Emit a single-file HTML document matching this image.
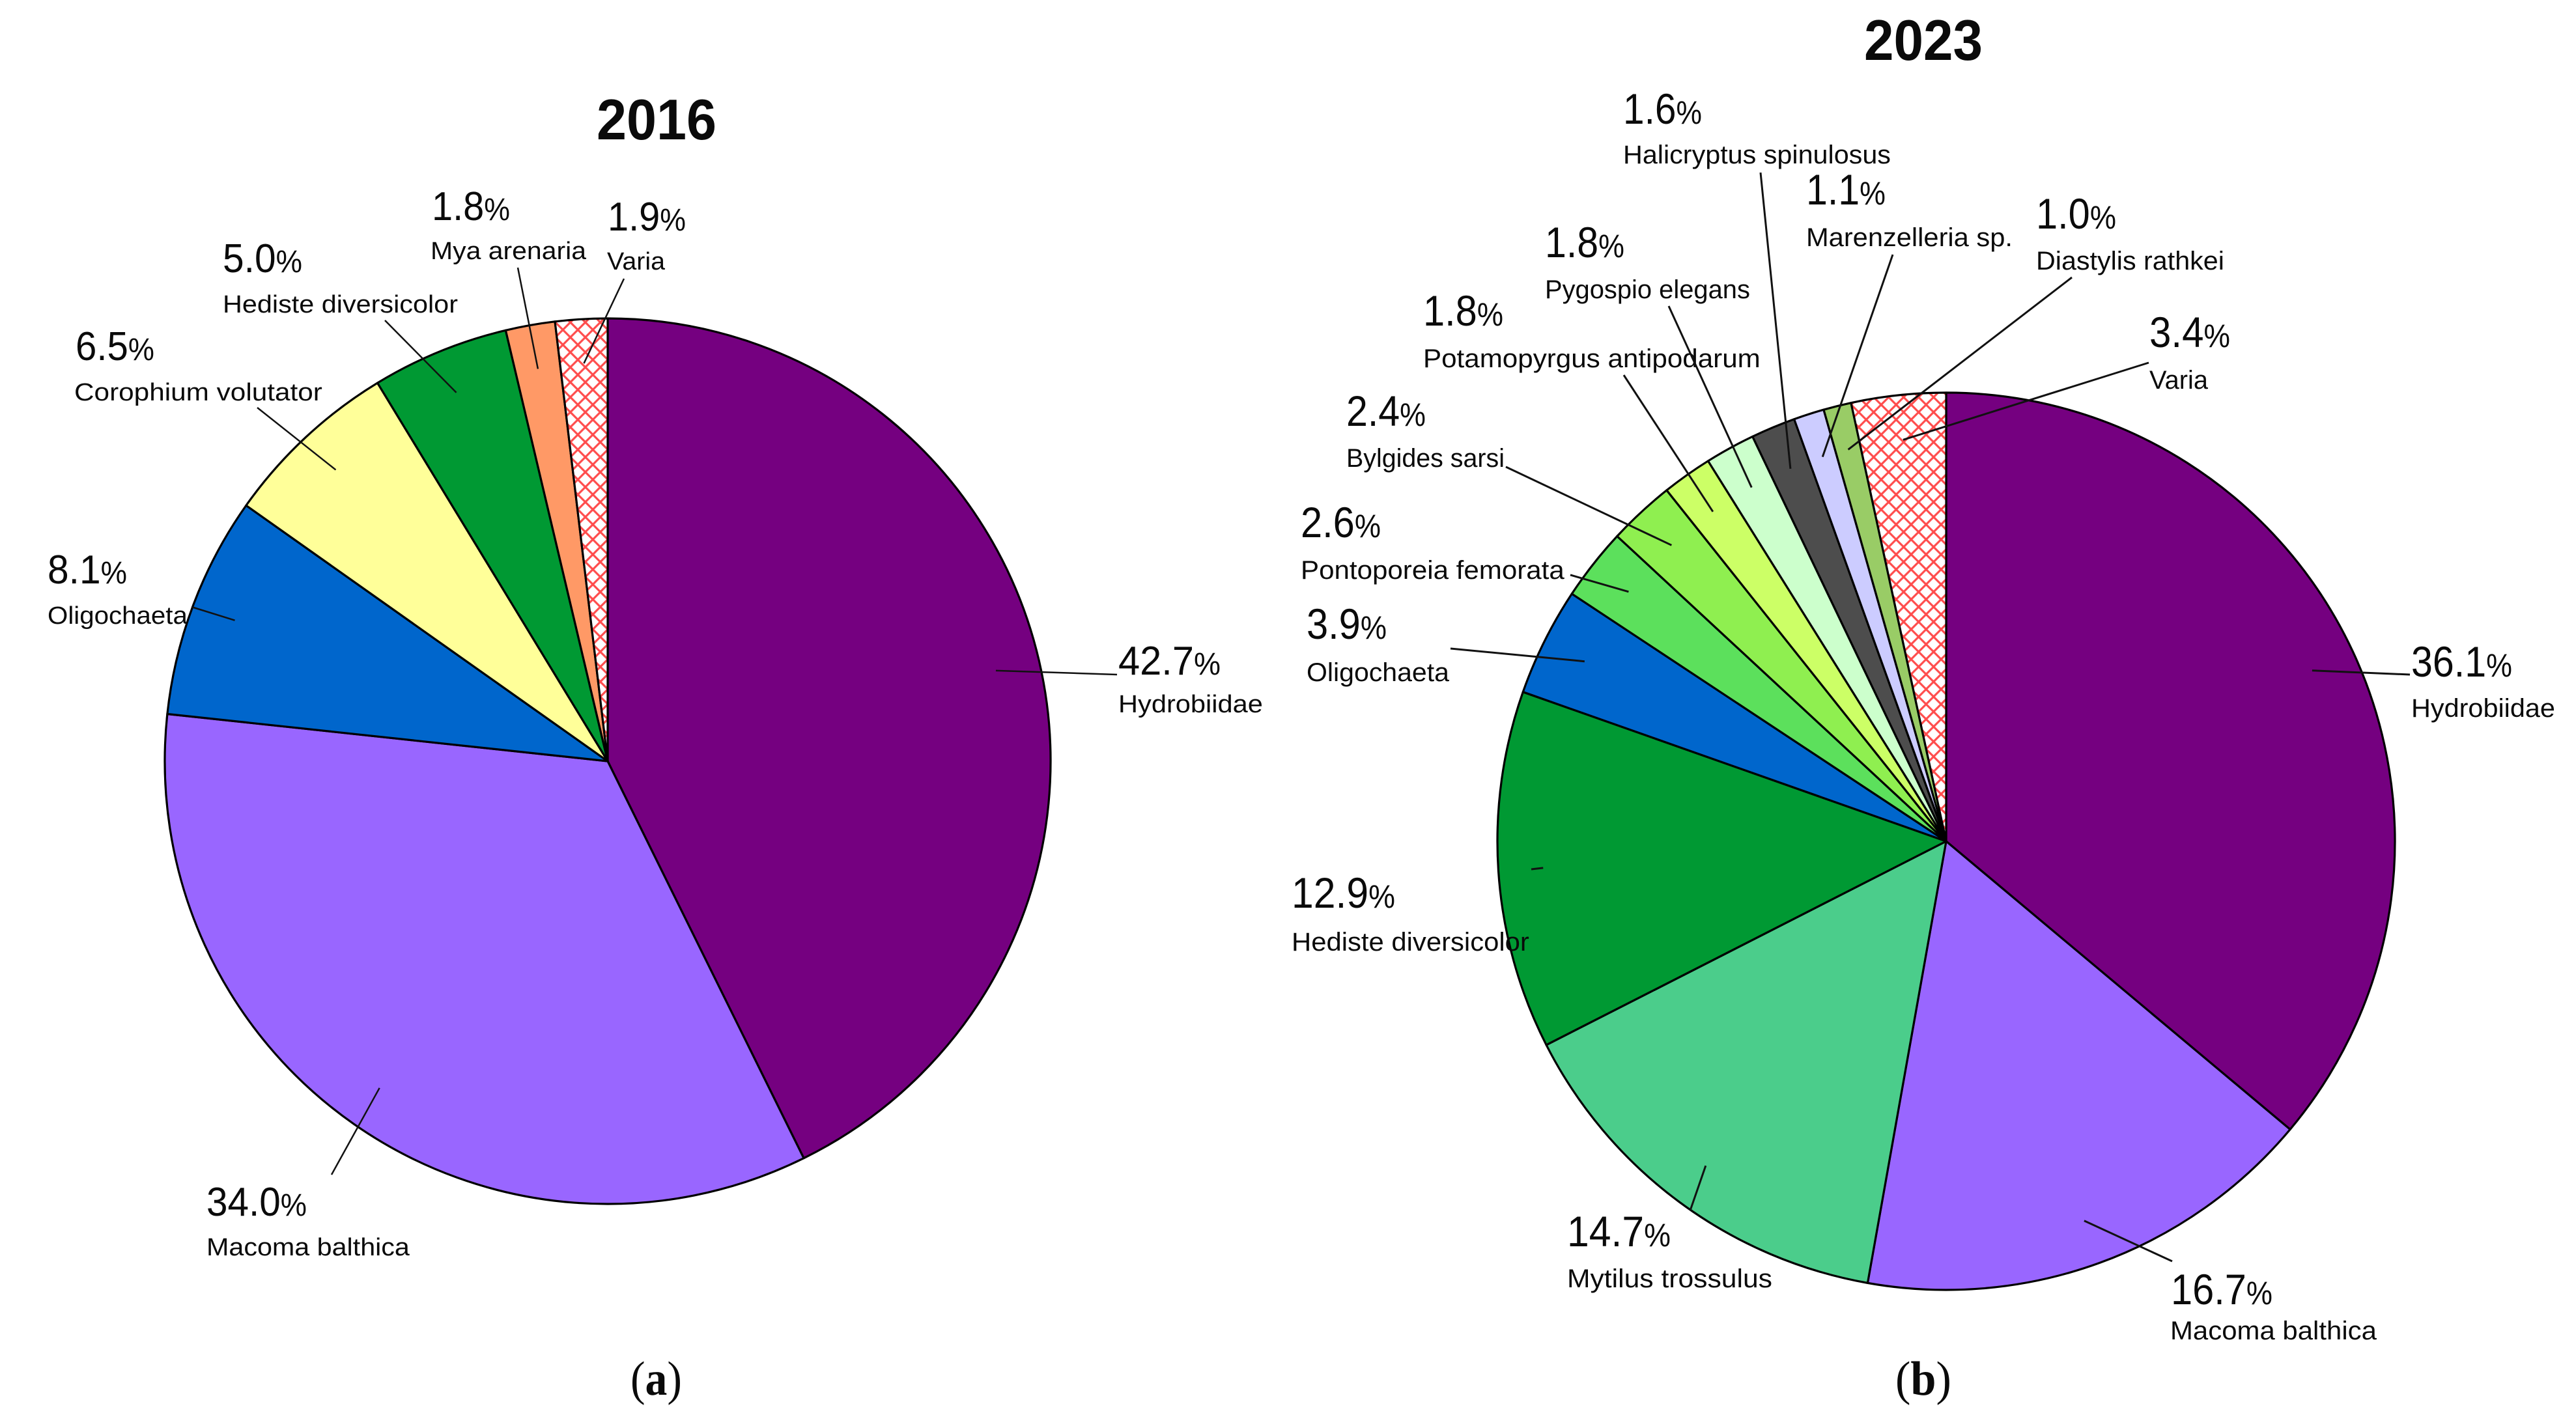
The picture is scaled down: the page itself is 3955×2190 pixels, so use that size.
<!DOCTYPE html>
<html lang="en">
<head>
<meta charset="utf-8">
<title>Benthic species composition 2016 and 2023</title>
<style>
html,body{margin:0;padding:0;background:#fff;width:3955px;height:2190px;overflow:hidden}
svg{display:block}
text{font-family:"Liberation Sans",sans-serif;fill:#0a0a0a}
</style>
</head>
<body>
<svg id="chart" xmlns="http://www.w3.org/2000/svg" width="3955" height="2190" viewBox="0 0 3955 2190">
  <defs>
    <pattern id="hatch" patternUnits="userSpaceOnUse" x="1.7" y="12" width="23" height="23">
      <rect width="23" height="23" fill="#ffffff"/>
      <path d="M0 0L23 23M23 0L0 23" stroke="#ff4d4d" stroke-width="3.2" fill="none"/>
    </pattern>
  </defs>
  <rect width="3955" height="2190" fill="#ffffff"/>
  <g id="pie-2016"></g>
  <g id="pie-2023"></g>
  <text id="title-2016" font-weight="700" font-size="88">2016</text>
  <text id="title-2023" font-weight="700" font-size="88">2023</text>
  <text id="panel-a" font-size="74" style="font-family:'Liberation Serif',serif">(<tspan font-weight="700">a</tspan>)</text>
  <text id="panel-b" font-size="74" style="font-family:'Liberation Serif',serif">(<tspan font-weight="700">b</tspan>)</text>
</svg>
<script>
// ---- data ----
const categories2016 = ['Hydrobiidae','Macoma balthica','Oligochaeta','Corophium volutator','Hediste diversicolor','Mya arenaria','Varia'];
const values2016 = [42.7,34.0,8.1,6.5,5.0,1.8,1.9];
const categories2023 = ['Hydrobiidae','Macoma balthica','Mytilus trossulus','Hediste diversicolor','Oligochaeta','Pontoporeia femorata','Bylgides sarsi','Potamopyrgus antipodarum','Pygospio elegans','Halicryptus spinulosus','Marenzelleria sp.','Diastylis rathkei','Varia'];
const values2023 = [36.1,16.7,14.7,12.9,3.9,2.6,2.4,1.8,1.8,1.6,1.1,1.0,3.4];

// ---- styling ----
const colors2016 = ['#750080','#9966ff','#0066cc','#ffff99','#009933','#ff9966','url(#hatch)'];
const colors2023 = ['#750080','#9966ff','#4bcd8b','#009933','#0066cc','#5ce05c','#8fef50','#ccff66','#ccffcc','#4d4d4d','#ccccff','#99cc66','url(#hatch)'];

// ---- annotation layout (label placement, independent of values) ----
// [valueX, valueEndX, valueBaseline, nameX, nameEndX, nameBaseline, leaderOuterX, leaderOuterY]
const labelLayout2016 = [
  [1717,1874,1036,1717,1939,1094,1715,1036],
  [317,471,1867,317,629,1928,509,1804],
  [73,195,896,73,288,958,294,932],
  [116,237,553,114,495,615,395,626],
  [342,464,418,342,703,480,591,492],
  [663,783,338,661,900,398,795,411],
  [933,1053,354,932,1021,414,958,428]
];
const labelLayout2023 = [
  [3702,3857,1039,3702,3923,1101,3700,1036],
  [3333,3489,2003,3332,3649,2057,3335,1937],
  [2406,2565,1914,2406,2721,1977,2595,1859],
  [1983,2142,1394,1983,2348,1460,2351,1335],
  [2006,2129,981,2006,2225,1046,2227,996],
  [1997,2120,825,1997,2402,889,2411,883],
  [2067,2189,654,2067,2310,717,2312,717],
  [2185,2308,500,2185,2703,564,2493,576],
  [2372,2494,395,2372,2687,458,2562,470],
  [2492,2613,190,2492,2903,251,2703,265],
  [2773,2895,314,2773,3090,378,2906,391],
  [3126,3249,351,3126,3415,414,3181,426],
  [3300,3424,533,3300,3390,597,3299,557]
];

const NS = 'http://www.w3.org/2000/svg';
const LEADER_FRACTION = 0.9;

function slug(s){ return s.toLowerCase().replace(/[^a-z0-9]+/g,'-').replace(/-$/,''); }

// Axis function: cumulative percent -> point on the circle, clockwise from the top.
function polar(cx, cy, r, pct){
  const a = pct / 100 * 2 * Math.PI;
  return [cx + r * Math.sin(a), cy - r * Math.cos(a)];
}

// Squeeze text horizontally to a target extent, mimicking the narrower original face.
function fit(el, x, endX, y){
  const natural = el.getComputedTextLength();
  const sx = natural > 0 ? (endX - x) / natural : 1;
  el.setAttribute('transform', 'translate(' + x + ' ' + y + ') scale(' + sx + ' 1)');
}

function drawPie(hostId, year, categories, values, colors, layout, cx, cy, R, leaderWidth, valueSize, pctSize, nameSize){
  const host = document.getElementById(hostId);
  const total = values.reduce(function(a,b){return a+b;},0);
  let cum = 0;
  const mids = [];
  values.forEach(function(v, i){
    const startPct = cum / total * 100;
    const endPct = (cum + v) / total * 100;
    cum += v;
    mids.push((startPct + endPct) / 2);
    const p0 = polar(cx, cy, R, startPct);
    const p1 = polar(cx, cy, R, endPct);
    const large = endPct - startPct > 50 ? 1 : 0;
    const slice = document.createElementNS(NS, 'path');
    
    
    slice.setAttribute('d', 'M' + cx + ' ' + cy + 'L' + p0[0] + ' ' + p0[1] + 'A' + R + ' ' + R + ' 0 ' + large + ' 1 ' + p1[0] + ' ' + p1[1] + 'Z');
    slice.setAttribute('fill', colors[i]);
    slice.setAttribute('stroke', '#000');
    slice.setAttribute('stroke-width', '3.2');
    slice.setAttribute('stroke-linejoin', 'round');
    host.appendChild(slice);
  });
  values.forEach(function(v, i){
    const lay = layout[i];
    const inner = polar(cx, cy, R * LEADER_FRACTION, mids[i]);
    const leader = document.createElementNS(NS, 'line');
    
    
    leader.setAttribute('x1', inner[0]);
    leader.setAttribute('y1', inner[1]);
    leader.setAttribute('x2', lay[6]);
    leader.setAttribute('y2', lay[7]);
    leader.setAttribute('stroke', '#111');
    leader.setAttribute('stroke-width', leaderWidth);
    host.appendChild(leader);

    const valueText = document.createElementNS(NS, 'text');
    
    
    valueText.setAttribute('font-size', valueSize);
    valueText.textContent = v.toFixed(1);
    const pct = document.createElementNS(NS, 'tspan');
    
    
    pct.setAttribute('font-size', pctSize);
    pct.textContent = '%';
    valueText.appendChild(pct);
    host.appendChild(valueText);
    fit(valueText, lay[0], lay[1], lay[2]);

    const nameText = document.createElementNS(NS, 'text');
    
    
    nameText.setAttribute('font-size', nameSize);
    nameText.textContent = categories[i];
    host.appendChild(nameText);
    fit(nameText, lay[3], lay[4], lay[5]);
  });
}

drawPie('pie-2016', '2016', categories2016, values2016, colors2016, labelLayout2016, 933, 1169, 680, 2.5, 62, 48, 38);
drawPie('pie-2023', '2023', categories2023, values2023, colors2023, labelLayout2023, 2988, 1292, 689, 3, 66, 50, 40);

fit(document.getElementById('title-2016'), 916, 1100, 214);
fit(document.getElementById('title-2023'), 2862, 3044, 92);
fit(document.getElementById('panel-a'), 968, 1047, 2142);
fit(document.getElementById('panel-b'), 2910, 2996, 2142);
</script>
</body>
</html>
